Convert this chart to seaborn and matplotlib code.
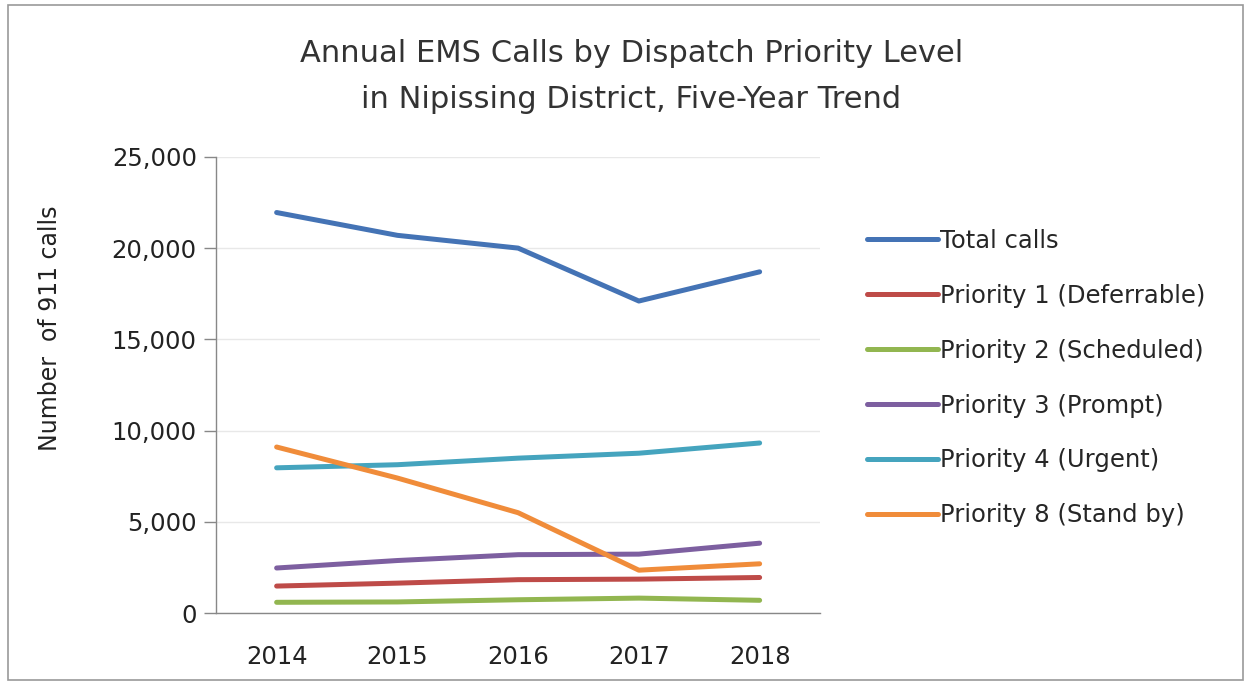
import pandas as pd
import matplotlib.pyplot as plt
import seaborn as sns
from matplotlib.patches import Rectangle
from matplotlib.ticker import FuncFormatter

years = ["2014", "2015", "2016", "2017", "2018"]
series_names = [
    "Total calls",
    "Priority 1 (Deferrable)",
    "Priority 2 (Scheduled)",
    "Priority 3 (Prompt)",
    "Priority 4 (Urgent)",
    "Priority 8 (Stand by)",
]
total_calls = [21950, 20700, 20000, 17100, 18700]
priority_1 = [1480, 1640, 1830, 1860, 1950]
priority_2 = [590, 610, 730, 820, 700]
priority_3 = [2470, 2880, 3200, 3230, 3830]
priority_4 = [7960, 8130, 8490, 8760, 9320]
priority_8 = [9100, 7400, 5500, 2350, 2700]
colors = ["#4473B5", "#BE4B48", "#92B650", "#7D5FA0", "#45A4BE", "#F08C3A"]

values = [total_calls, priority_1, priority_2, priority_3, priority_4, priority_8]
rows = []
for name, vals in zip(series_names, values):
    for i, v in enumerate(vals):
        rows.append({"year": i, "series": name, "calls": v})
df = pd.DataFrame(rows)

sns.set_theme(style="white")
plt.rcParams["font.family"] = ["DejaVu Sans"]

fig = plt.figure(figsize=(12.5, 6.85), dpi=100)
ax = fig.add_axes([0.173, 0.105, 0.483, 0.666])

sns.lineplot(data=df, x="year", y="calls", hue="series", hue_order=series_names,
             palette=colors, linewidth=3.6, ax=ax, legend=True)

ax.set_xlim(-0.5, 4.5)
ax.set_ylim(0, 25000)
ax.set_yticks(range(0, 25001, 5000))
ax.yaxis.set_major_formatter(FuncFormatter(lambda v, p: f"{int(v):,}"))
ax.set_xticks(range(5))
ax.set_xticklabels(years)
ax.set_xticks([x - 0.5 for x in range(6)], minor=True)
ax.tick_params(axis="x", which="major", length=0, labelsize=17.5, pad=23, colors="#222222")
ax.tick_params(axis="x", which="minor", length=9, width=1, color="#888888", direction="out")
ax.tick_params(axis="y", length=9, width=1, labelsize=17.5, pad=5, colors="#222222", left=True)
ax.tick_params(axis="y", color="#888888")
ax.grid(axis="y", color="#e8e8e8", linewidth=1)
for s in ["top", "right"]:
    ax.spines[s].set_visible(False)
for s in ["left", "bottom"]:
    ax.spines[s].set_color("#888888")
    ax.spines[s].set_linewidth(1)

ax.set_xlabel("")
ax.set_ylabel("Number  of 911 calls", fontsize=17, color="#222222")
ax.yaxis.set_label_coords(-0.255, 0.625)

fig.text(0.505, 0.922, "Annual EMS Calls by Dispatch Priority Level", ha="center", va="center",
         fontsize=22, color="#333333")
fig.text(0.505, 0.855, "in Nipissing District, Five-Year Trend", ha="center", va="center",
         fontsize=22, color="#333333")

handles, labels = ax.get_legend_handles_labels()
ax.legend(handles, labels, loc="upper left", bbox_to_anchor=(0.686, 0.68),
          bbox_transform=fig.transFigure, frameon=False, fontsize=17.5,
          handlelength=2.9, handletextpad=0.1, labelspacing=1.27, borderaxespad=0)

fig.patches.append(Rectangle((0.006, 0.008), 0.988, 0.984, transform=fig.transFigure,
                             fill=False, edgecolor="#999999", linewidth=1.2))

fig.savefig("out.png", dpi=100)
